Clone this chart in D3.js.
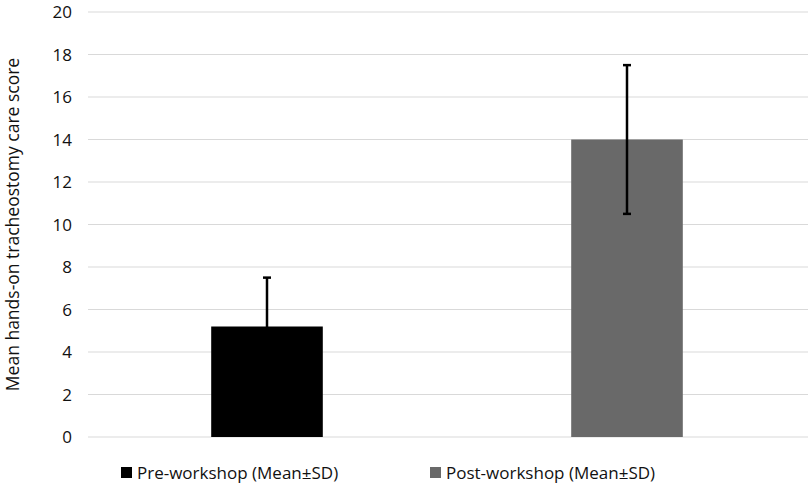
<html lang="en">
<head>
<meta charset="UTF-8">
<title>Tracheostomy care score</title>
<script src="https://cdn.jsdelivr.net/npm/d3@7"></script>
<style>body{margin:0;background:#fff;} text{font-family:"Open Sans","Liberation Sans",sans-serif;fill:#111;}</style>
</head>
<body>
<script>
var groups = ["Pre-workshop (Mean±SD)", "Post-workshop (Mean±SD)"];
var means = [5.2, 14.0];
var sds = [2.3, 3.5];
var colors = ["#000000", "#696969"];
var yTicks = [0, 2, 4, 6, 8, 10, 12, 14, 16, 18, 20];

var svg = d3.select("body").append("svg").attr("width", 810).attr("height", 494);

var x = d3.scaleBand().domain(groups).range([88, 808]).paddingInner(0).paddingOuter(0);
var y = d3.scaleLinear().domain([0, 20]).range([437, 12]);

// grid
svg.selectAll("line.grid").data(yTicks).enter().append("line")
    .attr("x1", 88).attr("x2", 808)
    .attr("y1", function(d){ return y(d); }).attr("y2", function(d){ return y(d); })
    .attr("stroke", "#d9d9d9").attr("stroke-width", 1);

svg.selectAll("text.tick").data(yTicks).enter().append("text")
    .attr("x", 72).attr("y", function(d){ return y(d) + 6; })
    .attr("text-anchor", "end").attr("font-size", 17).text(function(d){ return d; });

var bw = x.bandwidth() * 0.31;
svg.selectAll("rect.bar").data(groups).enter().append("rect")
    .attr("x", function(d){ return x(d) + x.bandwidth()/2 - bw/2 - 1; })
    .attr("width", bw)
    .attr("y", function(d, i){ return y(means[i]); })
    .attr("height", function(d, i){ return y(0) - y(means[i]); })
    .attr("fill", function(d, i){ return colors[i]; });

// error bars
groups.forEach(function(g, i){
    var cx = x(g) + x.bandwidth()/2 - 1;
    var e = svg.append("g").attr("stroke", "#000").attr("stroke-width", 2.5);
    e.append("line").attr("x1", cx).attr("x2", cx).attr("y1", y(means[i] + sds[i])).attr("y2", y(means[i] - sds[i]));
    [means[i] + sds[i], means[i] - sds[i]].forEach(function(v){
        e.append("line").attr("x1", cx - 4).attr("x2", cx + 4).attr("y1", y(v)).attr("y2", y(v));
    });
});

svg.append("text")
    .attr("transform", "translate(19," + y(10) + ") rotate(-90)")
    .attr("text-anchor", "middle").attr("font-size", 17.5)
    .text("Mean hands-on tracheostomy care score");

// legend
var lx = [121, 430];
groups.forEach(function(g, i){
    svg.append("rect").attr("x", lx[i]).attr("y", 467).attr("width", 11).attr("height", 11).attr("fill", colors[i]);
    svg.append("text").attr("x", lx[i] + 16).attr("y", 479).attr("font-size", 17).text(g);
});
</script>
</body>
</html>
